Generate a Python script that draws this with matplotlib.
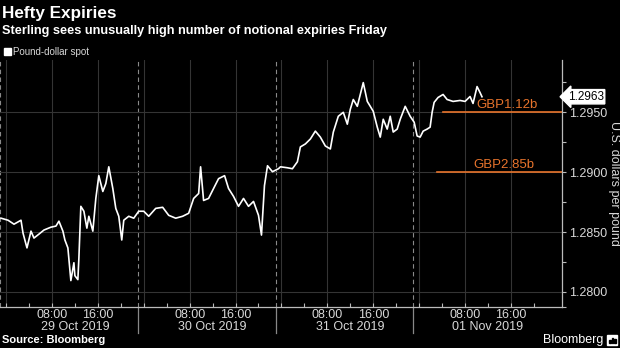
import matplotlib
matplotlib.use("Agg")
import matplotlib.pyplot as plt
import matplotlib.transforms as mtransforms

# hours since 29 Oct 2019 00:00 and pound-dollar spot
hours = [-0.87, 0.35, 1.39, 2.61, 2.96, 3.65, 4.35, 4.87, 5.74, 6.61,
         7.83, 8.70, 9.22, 9.91, 10.26, 10.78, 11.30, 11.83, 12.00, 12.52,
         12.70, 13.04, 13.57, 14.09, 14.43, 15.13, 15.65, 16.17, 16.87, 17.39,
         17.91, 18.61, 19.13, 19.65, 20.17, 20.52, 21.39, 22.26, 23.13, 24.00,
         24.87, 26.09, 27.30, 28.35, 29.57, 30.78, 31.83, 32.70, 33.57, 33.91,
         34.43, 35.30, 36.17, 37.04, 38.09, 38.78, 39.65, 40.52, 41.39, 42.26,
         43.13, 44.00, 44.52, 45.04, 45.57, 46.43, 47.48, 47.83, 49.04, 49.91,
         50.78, 51.30, 52.17, 53.04, 53.91, 54.78, 55.65, 56.52, 57.04, 57.91,
         58.78, 59.48, 60.00, 60.52, 61.22, 61.74, 62.26, 62.96, 63.48, 64.00,
         64.70, 65.22, 65.74, 66.43, 66.96, 67.48, 68.17, 68.70, 69.57, 70.43,
         71.13, 71.65, 72.17, 72.70, 73.39, 73.91, 74.26, 74.61, 75.30, 76.17,
         76.87, 77.91, 79.13, 80.00, 80.87, 81.39, 82.09, 82.61, 82.95]
spot = [1.28616, 1.28599, 1.28566, 1.28599, 1.28492, 1.28368, 1.28508, 1.28450, 1.28483, 1.28517,
        1.28541, 1.28550, 1.28591, 1.28508, 1.28434, 1.28368, 1.28095, 1.28244, 1.28136, 1.28103,
        1.28285, 1.28715, 1.28674, 1.28533, 1.28632, 1.28508, 1.28781, 1.28971, 1.28839, 1.28905,
        1.29045, 1.28864, 1.28698, 1.28632, 1.28434, 1.28599, 1.28632, 1.28616, 1.28674, 1.28674,
        1.28632, 1.28698, 1.28707, 1.28640, 1.28616, 1.28632, 1.28657, 1.28781, 1.28822, 1.29045,
        1.28764, 1.28781, 1.28864, 1.28946, 1.28971, 1.28864, 1.28798, 1.28715, 1.28781, 1.28715,
        1.28756, 1.28640, 1.28475, 1.28888, 1.29054, 1.29004, 1.29029, 1.29045, 1.29037, 1.29029,
        1.29087, 1.29211, 1.29236, 1.29277, 1.29343, 1.29293, 1.29219, 1.29194, 1.29335, 1.29467,
        1.29500, 1.29401, 1.29525, 1.29607, 1.29550, 1.29649, 1.29748, 1.29591, 1.29550, 1.29508,
        1.29376, 1.29293, 1.29442, 1.29360, 1.29467, 1.29335, 1.29360, 1.29442, 1.29550, 1.29467,
        1.29417, 1.29302, 1.29293, 1.29343, 1.29360, 1.29376, 1.29500, 1.29583, 1.29624, 1.29649,
        1.29607, 1.29591, 1.29599, 1.29591, 1.29632, 1.29574, 1.29715, 1.29665, 1.29630]
last_price = 1.2963

expiry_levels = [1.2950, 1.2900]
expiry_labels = ["GBP1.12b", "GBP2.85b"]
expiry_start = [76.2, 75.1]
label_pos = [87.3, 86.8]

day_labels = ["29 Oct 2019", "30 Oct 2019", "31 Oct 2019", "01 Nov 2019"]
y_ticks = [1.2800, 1.2850, 1.2900, 1.2950]

orange = "#e8742c"
grid_c = "#343434"
tick_c = "#d8d8d8"
narrow = ["Liberation Sans Narrow", "Liberation Sans", "DejaVu Sans"]
regular = ["Liberation Sans", "DejaVu Sans"]
plt.rcParams["font.family"] = regular

fig = plt.figure(figsize=(6.2, 3.48), dpi=100, facecolor="black")
ax = fig.add_axes([0.0, 0.118, 0.9065, 0.71])
ax.set_facecolor("black")

ax.set_xlim(-1.05, 96.9)
ax.set_ylim(1.27901, 1.29938)

# grid
for d in range(4):
    for hh in (0, 8, 16):
        ax.axvline(d * 24 + hh, color=grid_c, lw=0.8, zorder=0)
    ax.axvline(d * 24 - 1, color="#8a8a8a", lw=0.8, ls=(0, (4, 3)), zorder=0)
for yv in y_ticks:
    ax.axhline(yv, color=grid_c, lw=0.8, zorder=0)

ax.plot(hours, spot, color="white", lw=1.2, zorder=3)

# expiry lines
for lvl, lab, x0, xl in zip(expiry_levels, expiry_labels, expiry_start, label_pos):
    ax.plot([x0, 96.9], [lvl, lvl], color=orange, lw=1.2, zorder=2)
    ax.text(xl, lvl + 0.00058, lab, color=orange, fontsize=9.5, ha="center",
            va="center", zorder=4)

# spines
for s in ("top", "left"):
    ax.spines[s].set_visible(False)
for s in ("right", "bottom"):
    ax.spines[s].set_color("#bbbbbb")
    ax.spines[s].set_linewidth(0.9)

# y axis on right
ax.yaxis.tick_right()
ax.set_yticks(y_ticks)
ax.set_yticklabels([f"{v:.4f}" for v in y_ticks])
ax.set_yticks([1.27875, 1.2825, 1.2875, 1.2925, 1.2975], minor=True)
ax.tick_params(axis="y", which="both", colors="#bbbbbb", labelcolor=tick_c,
               labelsize=9, length=3, width=0.8, pad=2)
fig.text(0.99, 0.474, "U.S. dollars per pound", color=tick_c, fontsize=9,
         rotation=270, ha="center", va="center")

# x axis
major_h = []
major_l = []
for d in range(4):
    for hh in (8, 16):
        major_h.append(d * 24 + hh)
        major_l.append(f"{hh:02d}:00")
ax.set_xticks(major_h)
ax.set_xticklabels(major_l)
ax.set_xticks([d * 24 + hh for d in range(4) for hh in (0, 4, 12, 20)], minor=True)
ax.tick_params(axis="x", which="both", direction="in", colors="#bbbbbb",
               labelcolor=tick_c, labelsize=9, length=3, width=0.8, pad=1.5)

trans = mtransforms.blended_transform_factory(ax.transData, ax.transAxes)
for d, lab in enumerate(day_labels):
    ax.text(d * 24 + 12, -0.083, lab, transform=trans, color=tick_c, fontsize=9,
            ha="center", va="center")
    if d > 0:
        ax.plot([d * 24 - 1, d * 24 - 1], [0, -0.105], transform=trans, color="#888888",
                lw=0.9, clip_on=False)

# last price tag
ax.annotate(f"{last_price:.4f}", xy=(96.9, last_price), xycoords="data",
            xytext=(4, 0), textcoords="offset points", color="black", fontsize=8.5,
            va="center", ha="left", annotation_clip=False,
            bbox=dict(boxstyle="larrow,pad=0.1", fc="white", ec="white"))

# titles
fig.text(0.003, 0.961, "Hefty Expiries", color="white", fontsize=12.3,
         fontweight="bold", family=narrow, va="center")
fig.text(0.003, 0.91, "Sterling sees unusually high number of notional expiries Friday",
         color="white", fontsize=9.2, fontweight="bold", family=narrow, va="center")
fig.patches.append(plt.Rectangle((0.006, 0.843), 0.011, 0.019, color="white",
                                 transform=fig.transFigure, figure=fig))
fig.text(0.021, 0.852, "Pound-dollar spot", color=tick_c, fontsize=7, va="center")
fig.text(0.003, 0.022, "Source: Bloomberg", color="white", fontsize=8,
         fontweight="bold", va="center", family=narrow)
fig.text(0.9726, 0.022, "Bloomberg", color="white", fontsize=9, ha="right",
         va="center", family=narrow)
# small logo mark
fig.patches.append(plt.Rectangle((0.979, 0.008), 0.016, 0.03, color="white",
                                 transform=fig.transFigure, figure=fig))
for bx, bh in ((0.983, 0.010), (0.987, 0.016), (0.991, 0.012)):
    fig.patches.append(plt.Rectangle((bx, 0.013), 0.002, bh, color="black",
                                     transform=fig.transFigure, figure=fig))

fig.savefig("out.png", dpi=100, facecolor="black")
